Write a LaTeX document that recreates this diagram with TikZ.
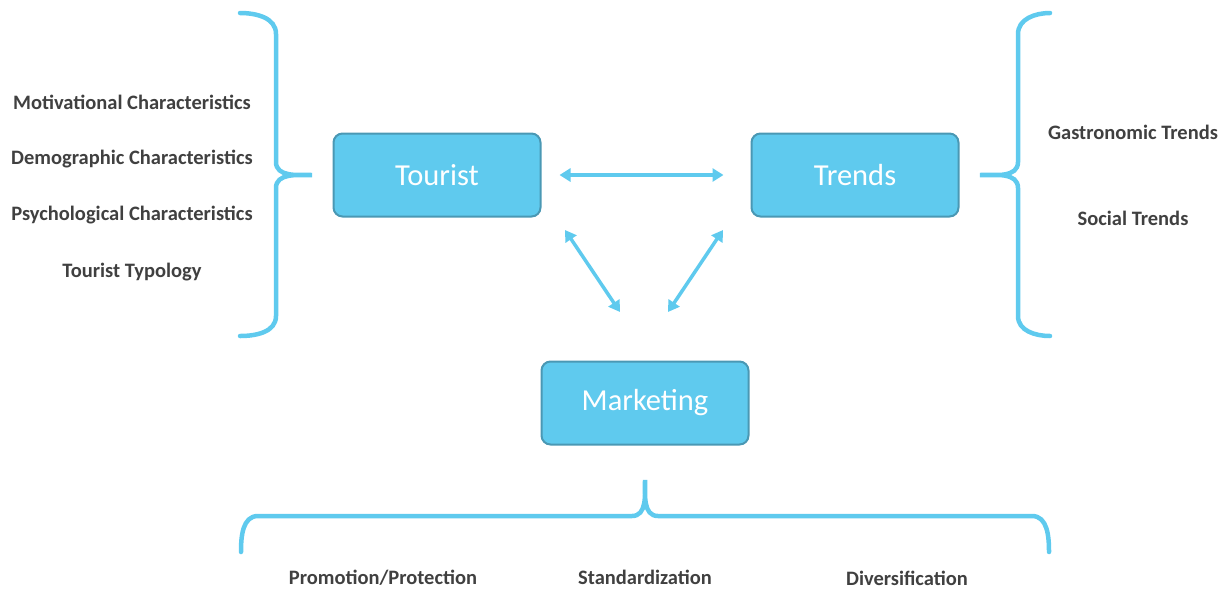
\documentclass[tikz,border=0pt]{standalone}
\usepackage{fontspec}
\setmainfont{Carlito}
\usetikzlibrary{arrows.meta}
\definecolor{boxblue}{HTML}{5FCAEE}
\definecolor{boxedge}{HTML}{4A98B4}
\definecolor{textgray}{HTML}{404040}
\tikzset{
  concept/.style={draw=boxedge, line width=2pt, fill=boxblue, rounded corners=9pt,
    minimum width=207pt, minimum height=83pt, text=white, font=\fontsize{30.5}{33}\selectfont},
  item/.style={text=textgray, font=\bfseries\fontsize{20.5}{23}\selectfont},
  brace/.style={draw=boxblue, line width=4.5pt, line cap=round},
  link/.style={draw=boxblue, line width=3.5pt, {Triangle[length=11pt,width=13pt]}-{Triangle[length=11pt,width=13pt]}}
}
\begin{document}
\begin{tikzpicture}[x=1pt,y=-1pt]
      \useasboundingbox (0,0) rectangle (1223,590);
      % Boxes
      \node[concept] (tourist) at (437,175) {Tourist};
      \node[concept] (trends) at (855,175) {Trends};
      \node[concept] (marketing) at (645,403) {Marketing};
      % Arrows
      \coordinate (mkl) at (620,312);
      \coordinate (mkr) at (668,312);
      \draw[link] ([xshift=18pt]tourist.east) -- ([xshift=-27pt]trends.west);
      \draw[link] (565,230) -- (mkl);
      \draw[link] (mkr) -- (723,230);
      % Braces
      \draw[brace] (240,13) to[out=0,in=90] (276,34) -- (276,162) to[out=-90,in=180] (312,175)
        to[out=180,in=90] (276,188) -- (276,316) to[out=-90,in=0] (240,336);
      \draw[brace] (1050,13) to[out=180,in=90] (1018,34) -- (1018,162) to[out=-90,in=0] (980,175)
        to[out=0,in=90] (1018,188) -- (1018,316) to[out=-90,in=180] (1050,336);
      \draw[brace] (241,552) to[out=90,in=180] (258,516) -- (632,516) to[out=0,in=-90] (645,480)
        to[out=-90,in=180] (658,516) -- (1032,516) to[out=0,in=90] (1049,552);
      % Labels
      \node[item] (motiv) at (132,102) {Motivational Characteristics};
      \node[item] (demo) at (132,159) {Demographic Characteristics};
      \node[item] (psych) at (132,215) {Psychological Characteristics};
      \node[item] (typo) at (132,272) {Tourist Typology};
      \node[item] (gastro) at (1133,132) {Gastronomic Trends};
      \node[item] (social) at (1133,218) {Social Trends};
      \node[item] (promo) at (383,578) {Promotion/Protection};
      \node[item] (standard) at (645,577) {Standardization};
      \node[item] (divers) at (907,578) {Diversification};
    \end{tikzpicture}
\end{document}
